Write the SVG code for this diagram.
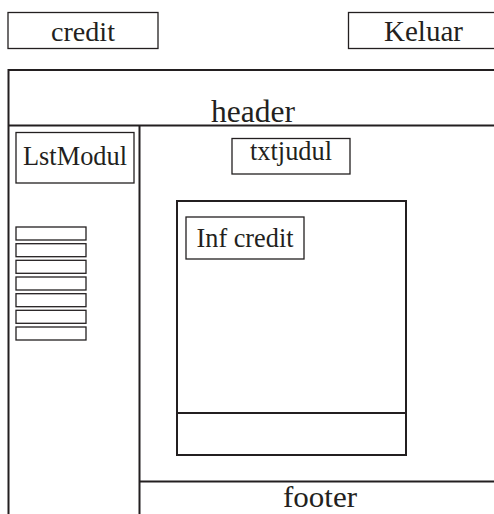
<svg xmlns="http://www.w3.org/2000/svg" width="494" height="514" viewBox="0 0 494 514">
<style>
.thin{fill:#fff;stroke:#231f20;stroke-width:1.3}
.thick{fill:none;stroke:#231f20;stroke-width:2}
text{font-family:"Liberation Serif","Times New Roman",serif;fill:#231f20;text-anchor:middle}
</style>
<rect width="494" height="514" fill="#fff"/>
<g id="credit"><rect class="thin" x="8" y="12.5" width="150" height="36"/><text x="83" y="41" font-size="28" textLength="64" lengthAdjust="spacingAndGlyphs">credit</text></g>
<g id="keluar"><rect class="thin" x="348.5" y="12.5" width="160" height="36"/><text x="423.5" y="41" font-size="29" textLength="79" lengthAdjust="spacingAndGlyphs">Keluar</text></g>
<g id="frame"><path class="thick" d="M500,70 H8.5 V520 M8.5,125.5 H500"/><text x="253" y="122" font-size="31" textLength="84" lengthAdjust="spacingAndGlyphs">header</text></g>
<g id="leftpanel"><path class="thick" d="M139.5,125.5 V520"/></g>
<g id="lstmodul"><rect class="thin" x="16" y="132.5" width="118" height="50.5"/><text x="75" y="165" font-size="26.4" textLength="104" lengthAdjust="spacingAndGlyphs">LstModul</text></g>
<g id="list">
<rect class="thin" x="16" y="227" width="70" height="13"/>
<rect class="thin" x="16" y="243.7" width="70" height="13"/>
<rect class="thin" x="16" y="260.3" width="70" height="13"/>
<rect class="thin" x="16" y="277" width="70" height="13"/>
<rect class="thin" x="16" y="293.7" width="70" height="13"/>
<rect class="thin" x="16" y="310.3" width="70" height="13"/>
<rect class="thin" x="16" y="327" width="70" height="13"/>
</g>
<g id="txtjudul"><rect class="thin" x="232" y="138.5" width="118" height="35.5"/><text x="291" y="160" font-size="26.3" textLength="82" lengthAdjust="spacingAndGlyphs">txtjudul</text></g>
<g id="panel"><rect class="thick" x="177" y="201" width="229" height="254"/><path class="thick" d="M177,413 H406"/></g>
<g id="infcredit"><rect class="thin" x="186" y="217" width="118" height="42"/><text x="245" y="247" font-size="26.3" textLength="97" lengthAdjust="spacingAndGlyphs">Inf credit</text></g>
<g id="footer"><path class="thick" d="M139.5,481.5 H500"/><text x="320" y="507" font-size="30" textLength="74" lengthAdjust="spacingAndGlyphs">footer</text></g>
<g id="connectors"/>
</svg>
